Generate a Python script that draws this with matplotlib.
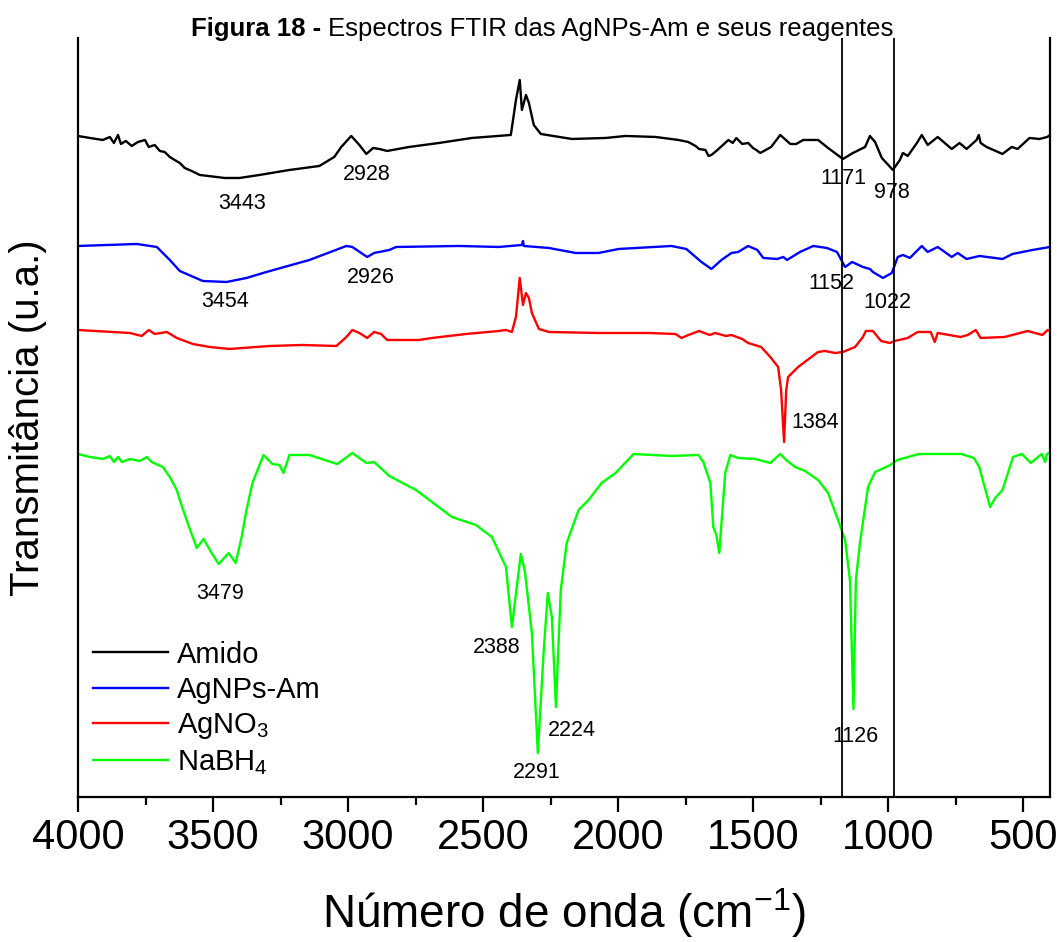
import matplotlib
matplotlib.use("Agg")
import matplotlib.pyplot as plt
from matplotlib.ticker import MultipleLocator

plt.rcParams['font.family'] = ['Liberation Sans', 'DejaVu Sans']

# numero de onda (cm-1) e transmitancia (u.a., curvas deslocadas)
amido_x = [4000, 3956, 3908, 3882, 3867, 3852, 3841, 3823, 3801, 3778, 3752, 3738, 3716, 3697,
           3679, 3660, 3642, 3623, 3605, 3579, 3549, 3457, 3402, 3328, 3217, 3106, 3051, 3025,
           2988, 2958, 2932, 2907, 2884, 2855, 2774, 2663, 2541, 2397, 2378, 2364, 2356, 2341,
           2330, 2312, 2286, 2171, 2046, 1972, 1861, 1776, 1740, 1713, 1700, 1676, 1665, 1654,
           1636, 1591, 1575, 1562, 1540, 1518, 1500, 1488, 1473, 1433, 1399, 1362, 1340, 1314,
           1259, 1222, 1167, 1130, 1085, 1067, 1048, 1023, 982, 956, 945, 927, 893, 875, 853,
           816, 764, 735, 709, 672, 664, 657, 635, 576, 542, 520, 476, 439, 410, 400]
amido_y = [661, 659, 657, 660, 654, 662, 653, 656, 651, 655, 657, 650, 652, 646,
           645, 640, 637, 634, 629, 626, 622, 619, 619, 622, 627, 631, 640, 650,
           661, 652, 643, 649, 648, 646, 650, 654, 659, 662, 697, 717, 687, 702,
           694, 672, 663, 658, 659, 661, 660, 657, 655, 651, 648, 647, 641, 642,
           646, 657, 654, 659, 653, 654, 649, 647, 644, 650, 662, 653, 653, 657,
           657, 649, 638, 644, 650, 661, 655, 639, 627, 637, 644, 641, 654, 662, 652,
           660, 648, 654, 648, 657, 662, 654, 650, 643, 650, 648, 659, 658, 660, 662]

agnps_x = [4000, 3782, 3708, 3660, 3623, 3538, 3450, 3376, 3302, 3143, 3006, 2984, 2929, 2903,
           2847, 2822, 2589, 2441, 2356, 2352, 2349, 2256, 2157, 2072, 1998, 1802, 1747, 1691,
           1654, 1617, 1580, 1555, 1518, 1484, 1462, 1410, 1388, 1374, 1326, 1277, 1226, 1189,
           1159, 1133, 1093, 1067, 1056, 1019, 986, 964, 945, 919, 875, 853, 816, 764, 742,
           709, 661, 576, 539, 465, 400]
agnps_y = [551, 553, 550, 537, 526, 516, 515, 519, 525, 537, 551, 550, 540, 544,
           547, 550, 551, 550, 552, 556, 551, 549, 544, 544, 548, 551, 548, 535,
           528, 537, 544, 545, 551, 547, 539, 538, 540, 537, 545, 551, 549, 545,
           530, 535, 530, 528, 525, 519, 524, 540, 542, 539, 551, 545, 550, 540, 544,
           538, 541, 538, 543, 547, 550]

agno3_x = [4000, 3808, 3764, 3738, 3716, 3671, 3634, 3575, 3512, 3439, 3291, 3169, 3043, 3006,
           2984, 2958, 2929, 2903, 2877, 2855, 2737, 2689, 2563, 2441, 2415, 2393, 2378, 2364,
           2352, 2341, 2330, 2319, 2293, 2256, 2072, 1887, 1787, 1765, 1739, 1700, 1660, 1640,
           1600, 1580, 1540, 1518, 1470, 1436, 1407, 1396, 1385, 1377, 1370, 1333, 1259, 1233,
           1196, 1167, 1122, 1093, 1082, 1056, 1026, 993, 975, 927, 890, 842, 827, 816, 731,
           705, 675, 657, 568, 483, 428, 409, 400]
agno3_y = [467, 464, 461, 467, 463, 465, 459, 453, 450, 448, 451, 452, 451, 460,
           467, 464, 459, 465, 463, 457, 457, 459, 463, 466, 467, 465, 480, 519,
           492, 504, 499, 484, 468, 465, 464, 464, 463, 459, 462, 466, 462, 464,
           461, 462, 458, 454, 450, 440, 430, 407, 355, 407, 420, 430, 445, 446,
           444, 445, 450, 460, 466, 466, 456, 454, 456, 459, 465, 465, 455, 464, 460,
           462, 467, 459, 460, 466, 462, 467, 466]

nabh4_x = [4000, 3956, 3908, 3882, 3867, 3852, 3837, 3808, 3771, 3745, 3727, 3686, 3660, 3634,
           3623, 3594, 3560, 3535, 3505, 3479, 3442, 3416, 3394, 3376, 3354, 3313, 3280, 3254,
           3239, 3217, 3143, 3040, 2984, 2932, 2903, 2847, 2748, 2615, 2526, 2467, 2415, 2393,
           2375, 2360, 2345, 2319, 2297, 2275, 2260, 2245, 2230, 2212, 2190, 2146, 2109, 2061,
           2009, 1942, 1802, 1702, 1684, 1658, 1647, 1636, 1625, 1614, 1603, 1584, 1555, 1492,
           1436, 1399, 1377, 1344, 1307, 1259, 1222, 1185, 1159, 1141, 1128, 1119, 1104, 1074,
           1048, 1031, 991, 965, 886, 728, 682, 662, 642, 622, 603, 576, 537, 504, 471, 431,
           418, 412, 400]
nabh4_y = [343, 340, 338, 341, 335, 340, 335, 338, 336, 340, 335, 330, 320, 307,
           297, 274, 249, 258, 244, 233, 244, 234, 260, 287, 314, 342, 333, 332,
           324, 342, 342, 333, 344, 334, 335, 321, 307, 280, 272, 260, 230, 170,
           210, 243, 226, 164, 44, 147, 204, 180, 90, 207, 254, 287, 297, 314,
           324, 343, 341, 342, 335, 314, 270, 262, 244, 284, 324, 342, 339, 338,
           334, 343, 337, 330, 326, 317, 304, 277, 257, 217, 88, 217, 254, 310,
           325, 327, 332, 337, 343, 343, 339, 330, 310, 290, 299, 307, 340, 343, 334, 343,
           335, 343, 344]

series = [("Amido", amido_x, amido_y, "black"),
          ("AgNPs-Am", agnps_x, agnps_y, "#0000ff"),
          ("AgNO$\\mathregular{_3}$", agno3_x, agno3_y, "#ff0000"),
          ("NaBH$\\mathregular{_4}$", nabh4_x, nabh4_y, "#00ff00")]

marcas = ["1171", "978"]
picos = [("3443", 3394, 593), ("2928", 2932, 622), ("3454", 3457, 495), ("2926", 2914, 519),
         ("1171", 1167, 618), ("978", 986, 604), ("1152", 1211, 513), ("1022", 1004, 494),
         ("1384", 1270, 374), ("3479", 3472, 204), ("2388", 2449, 150), ("2291", 2301, 25),
         ("2224", 2171, 67), ("1126", 1122, 61)]

fig = plt.figure(figsize=(10.57, 9.42), dpi=100)
ax = fig.add_axes([0.0738, 0.1539, 0.9196, 0.8058])

for nome, x, y, cor in series:
    ax.plot(x, y, color=cor, lw=1.7, label=nome)

for m in marcas:
    ax.axvline(float(m), color="black", lw=1.3)

for txt, x, y in picos:
    ax.text(x, y, txt, fontsize=15.5, ha="center", va="center")

ax.set_xlim(4000, 400)
ax.set_ylim(0, 759)
ax.xaxis.set_major_locator(MultipleLocator(500))
ax.xaxis.set_minor_locator(MultipleLocator(250))
ax.tick_params(axis="x", which="major", direction="out", length=11, width=1.6,
               labelsize=30, pad=4)
ax.tick_params(axis="x", which="minor", direction="out", length=5.5, width=1.6)
ax.set_yticks([])
ax.spines["top"].set_visible(False)
for s in ["left", "right", "bottom"]:
    ax.spines[s].set_linewidth(1.6)

ax.set_xlabel("Número de onda (cm$\\mathregular{^{-1}}$)", fontsize=33, labelpad=20)
ax.set_ylabel("Transmitância (u.a.)", fontsize=29, labelpad=22)

ax.legend(loc="upper left", bbox_to_anchor=(0.0154, 0.206), frameon=False, fontsize=21,
          handlelength=2.57, handletextpad=0.3, labelspacing=0.25, borderpad=0,
          borderaxespad=0)

# titulo: parte em negrito + parte normal, centrado como conjunto
t1 = fig.text(0, 0.969, "Figura 18 - ", fontsize=18.5, weight="bold", va="center")
t2 = fig.text(0, 0.969, "Espectros FTIR das AgNPs-Am e seus reagentes", fontsize=18.5,
              va="center")
r = fig.canvas.get_renderer()
w1 = t1.get_window_extent(r).width / fig.bbox.width
w2 = t2.get_window_extent(r).width / fig.bbox.width
x0 = 0.513 - (w1 + w2) / 2
t1.set_x(x0)
t2.set_x(x0 + w1)

fig.savefig("out.png", dpi=100)
